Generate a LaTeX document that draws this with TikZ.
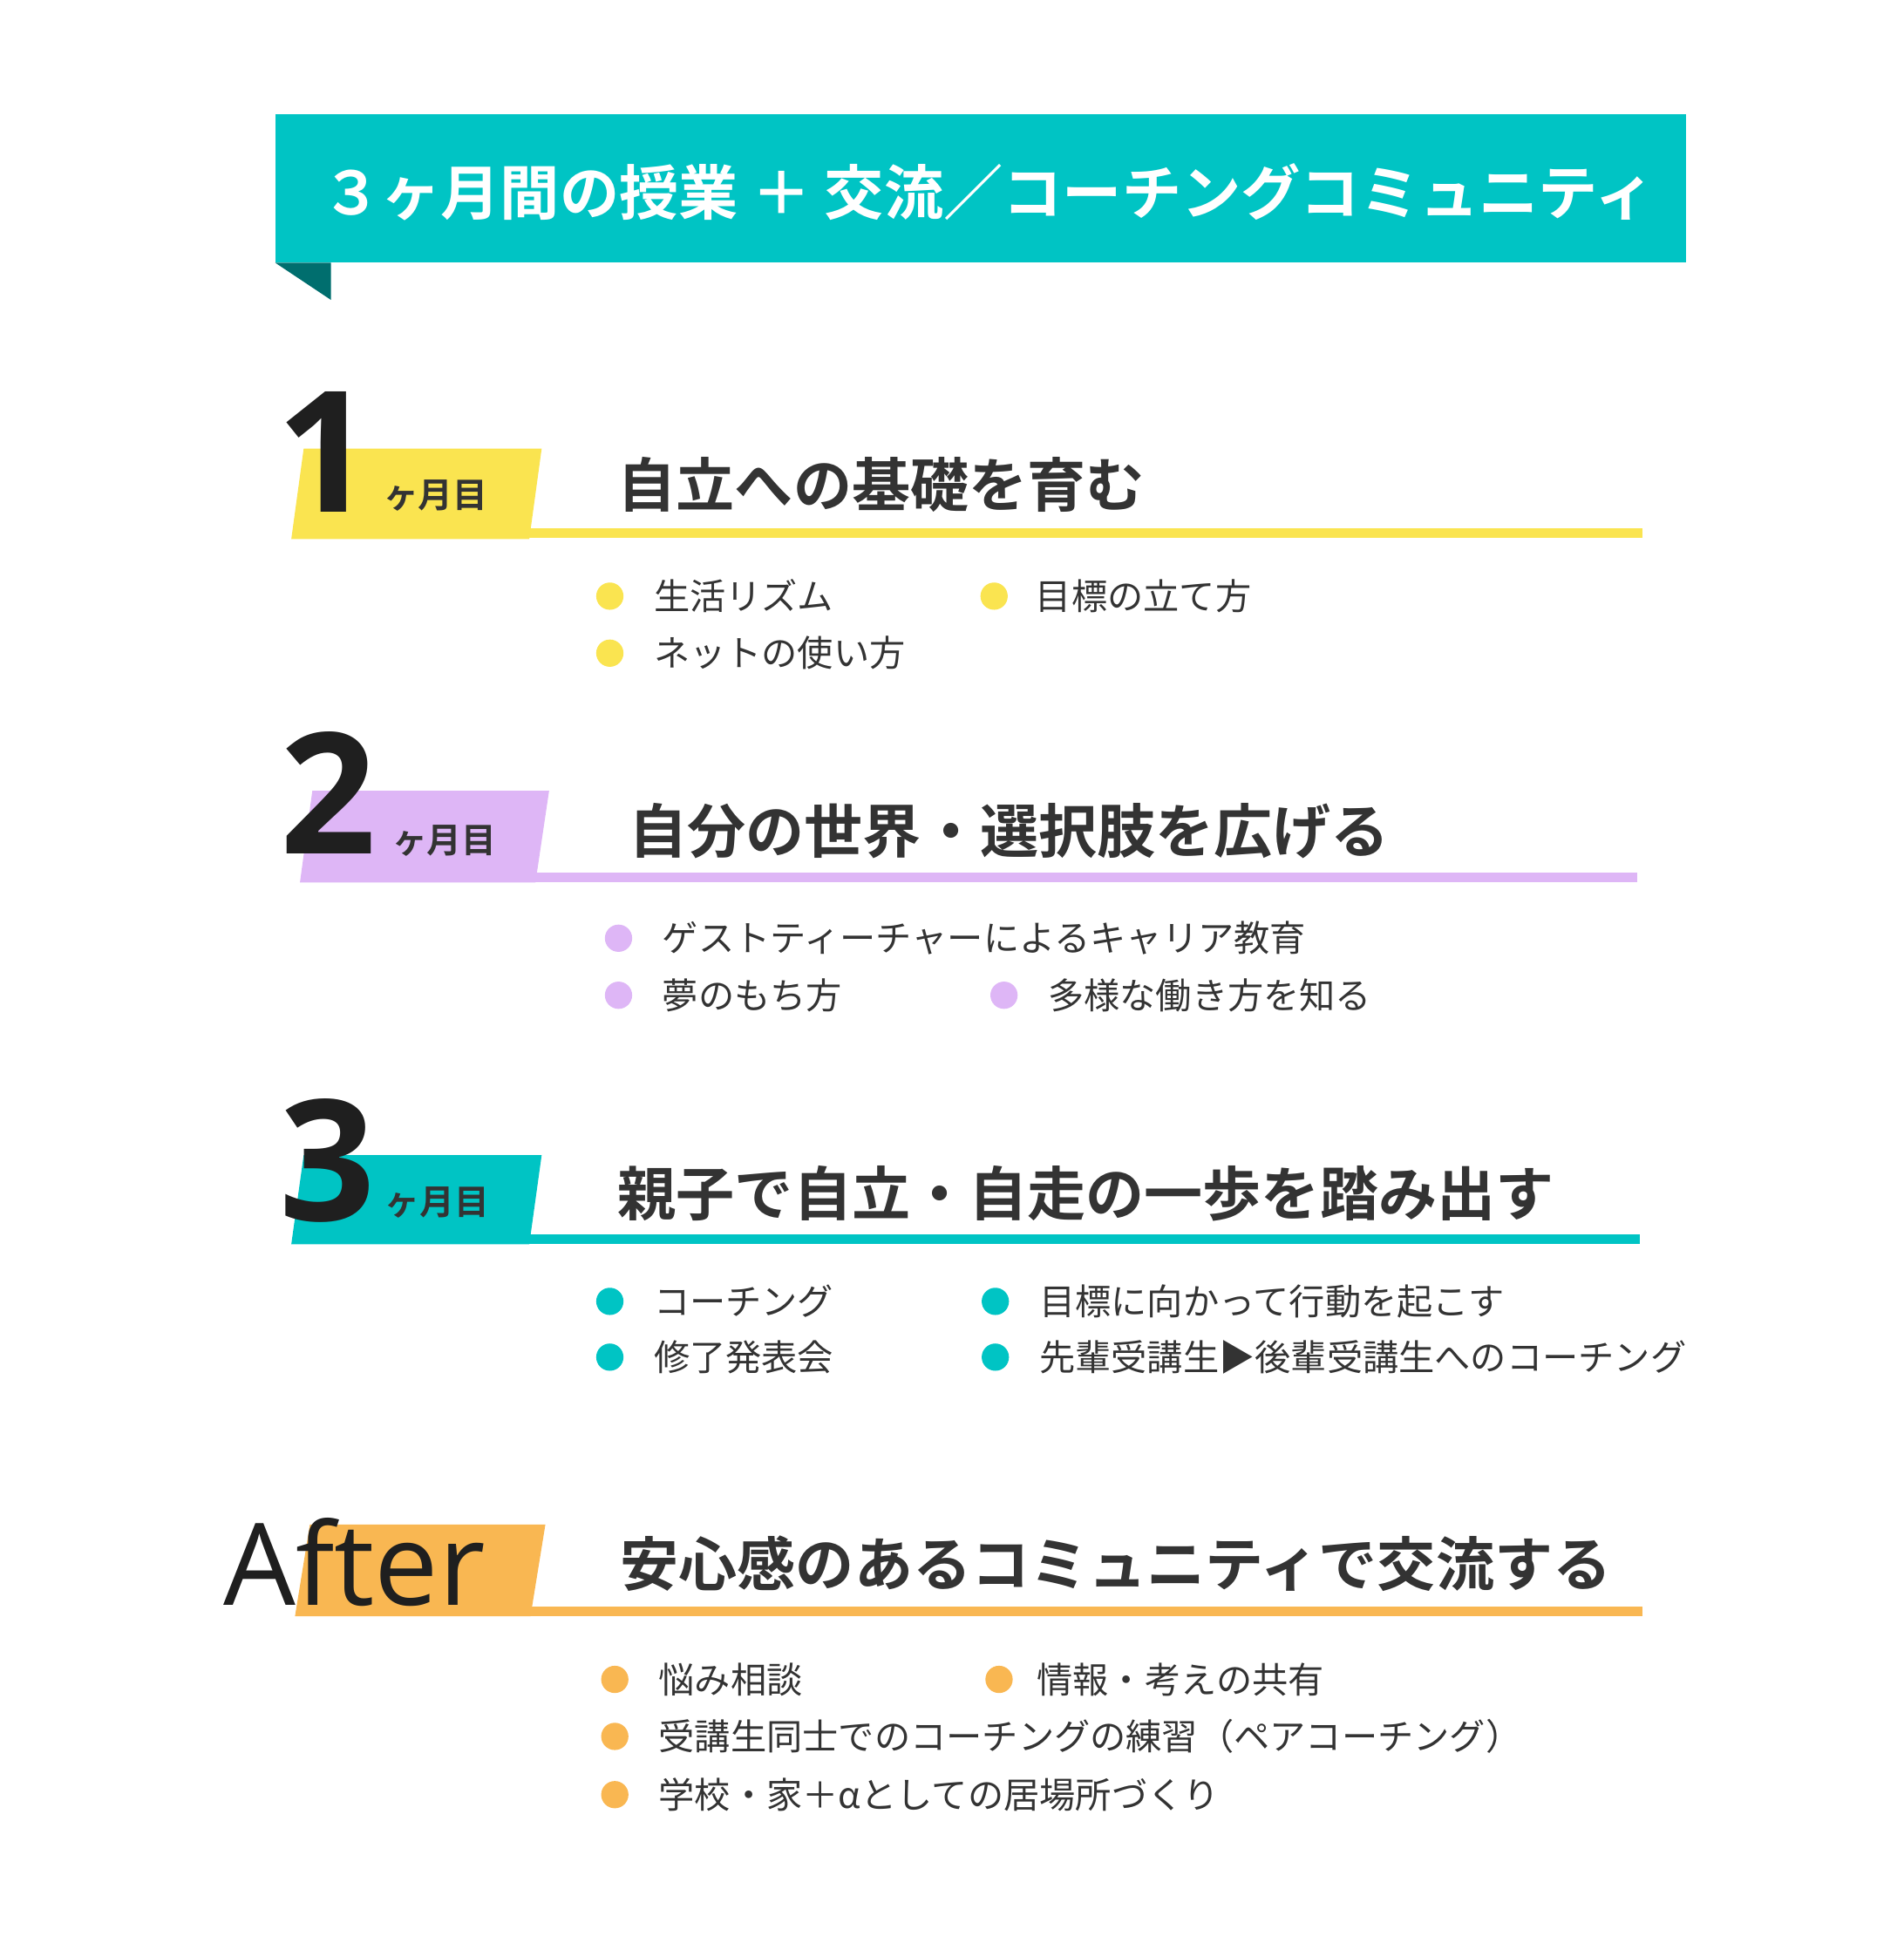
\documentclass[tikz,border=0pt]{standalone}
\usepackage{fontspec}
\setmainfont{Noto Sans CJK JP}
\newfontfamily\jpbold{Noto Sans CJK JP Bold}
\newfontfamily\numfont{Open Sans}
\definecolor{teal1}{RGB}{0,196,196}
\definecolor{tealdark}{RGB}{0,110,110}
\definecolor{yel1}{RGB}{250,228,80}
\definecolor{pur1}{RGB}{222,182,246}
\definecolor{org1}{RGB}{249,183,82}
\definecolor{txt1}{RGB}{51,51,51}
\tikzset{every picture/.style={line width=0.5pt}}
\tikzset{
  bigno/.style={anchor=base,inner sep=0pt,font=\numfont\bfseries\fontsize{68}{68}\selectfont,text=black!88},
  month/.style={anchor=base west,inner sep=0pt,font=\jpbold\fontsize{14}{14}\selectfont,text=txt1},
  headtxt/.style={anchor=base west,inner sep=0pt,font=\jpbold\fontsize{23.6}{23.6}\selectfont,text=txt1},
  itemtxt/.style={anchor=base west,inner sep=0pt,font=\fontsize{14.5}{14.5}\selectfont,text=txt1},
  dot/.style={circle,inner sep=0pt,minimum size=11pt}
}
\begin{document}
\begin{tikzpicture}[x=0.5pt,y=0.5pt,yscale=-1]
\useasboundingbox (0,0) rectangle (1536,1579);

% Title banner
\fill [tealdark] (222,212) -- (267,212) -- (267,242) -- cycle;
\fill [teal1] (222,92) rectangle (1360,212);
\node (title) [anchor=center,text=white,font=\jpbold\fontsize{24}{24}\selectfont] at (797,155) {３ヶ月間の授業 ＋ 交流／コーチングコミュニティ};

% Month 1
\fill [yel1] (245,362) -- (437,362) -- (427,435) -- (235,435) -- cycle;
\fill [yel1] (425,426) rectangle (1325,434);
\node (no1) [bigno] at (262,413) {1};
\node (mo1) [month] at (309,410) {ヶ月目};
\node (h1) [headtxt] at (498,409) {自立への基礎を育む};
\node (d11) [dot,fill=yel1] at (492,481) {};
\node (t11) [itemtxt] at (527,492) {生活リズム};
\node (d12) [dot,fill=yel1] at (802,481) {};
\node (t12) [itemtxt] at (835,492) {目標の立て方};
\node (d13) [dot,fill=yel1] at (492,527) {};
\node (t13) [itemtxt] at (527,538) {ネットの使い方};

% Month 2
\fill [pur1] (252,638) -- (443,638) -- (432,712) -- (242,712) -- cycle;
\fill [pur1] (430,704) rectangle (1321,712);
\node (no2) [bigno] at (265,689) {2};
\node (mo2) [month] at (316,688) {ヶ月目};
\node (h2) [headtxt] at (507,688) {自分の世界・選択肢を広げる};
\node (d21) [dot,fill=pur1] at (499,757) {};
\node (t21) [itemtxt] at (534,768) {ゲストティーチャーによるキャリア教育};
\node (d22) [dot,fill=pur1] at (499,803) {};
\node (t22) [itemtxt] at (534,814) {夢のもち方};
\node (d23) [dot,fill=pur1] at (810,803) {};
\node (t23) [itemtxt] at (845,814) {多様な働き方を知る};

% Month 3
\fill [teal1] (245,932) -- (437,932) -- (427,1004) -- (235,1004) -- cycle;
\fill [teal1] (425,996) rectangle (1323,1004);
\node (no3) [bigno] at (264,985) {3};
\node (mo3) [month] at (310,980) {ヶ月目};
\node (h3) [headtxt] at (498,981) {親子で自立・自走の一歩を踏み出す};
\node (d31) [dot,fill=teal1] at (492,1050) {};
\node (t31) [itemtxt] at (527,1061) {コーチング};
\node (d32) [dot,fill=teal1] at (803,1050) {};
\node (t32) [itemtxt] at (838,1061) {目標に向かって行動を起こす};
\node (d33) [dot,fill=teal1] at (492,1095) {};
\node (t33) [itemtxt] at (527,1106) {修了発表会};
\node (d34) [dot,fill=teal1] at (803,1095) {};
\node (t34) [itemtxt] at (838,1106) {先輩受講生▶後輩受講生へのコーチング};

% After
\fill [org1] (250,1230) -- (440,1230) -- (428,1304) -- (238,1304) -- cycle;
\fill [org1] (426,1296) rectangle (1325,1304);
\node (aft) [bigno,anchor=base west,font=\numfont\fontsize{46}{46}\selectfont] at (180,1295) {After};
\node (h4) [headtxt] at (500,1280) {安心感のあるコミュニティで交流する};
\node (d41) [dot,fill=org1] at (496,1355) {};
\node (t41) [itemtxt] at (531,1366) {悩み相談};
\node (d42) [dot,fill=org1] at (806,1355) {};
\node (t42) [itemtxt] at (836,1366) {情報・考えの共有};
\node (d43) [dot,fill=org1] at (496,1401) {};
\node (t43) [itemtxt] at (531,1412) {受講生同士でのコーチングの練習（ペアコーチング）};
\node (d44) [dot,fill=org1] at (496,1448) {};
\node (t44) [itemtxt] at (531,1459) {学校・家＋αとしての居場所づくり};
\end{tikzpicture}
\end{document}
